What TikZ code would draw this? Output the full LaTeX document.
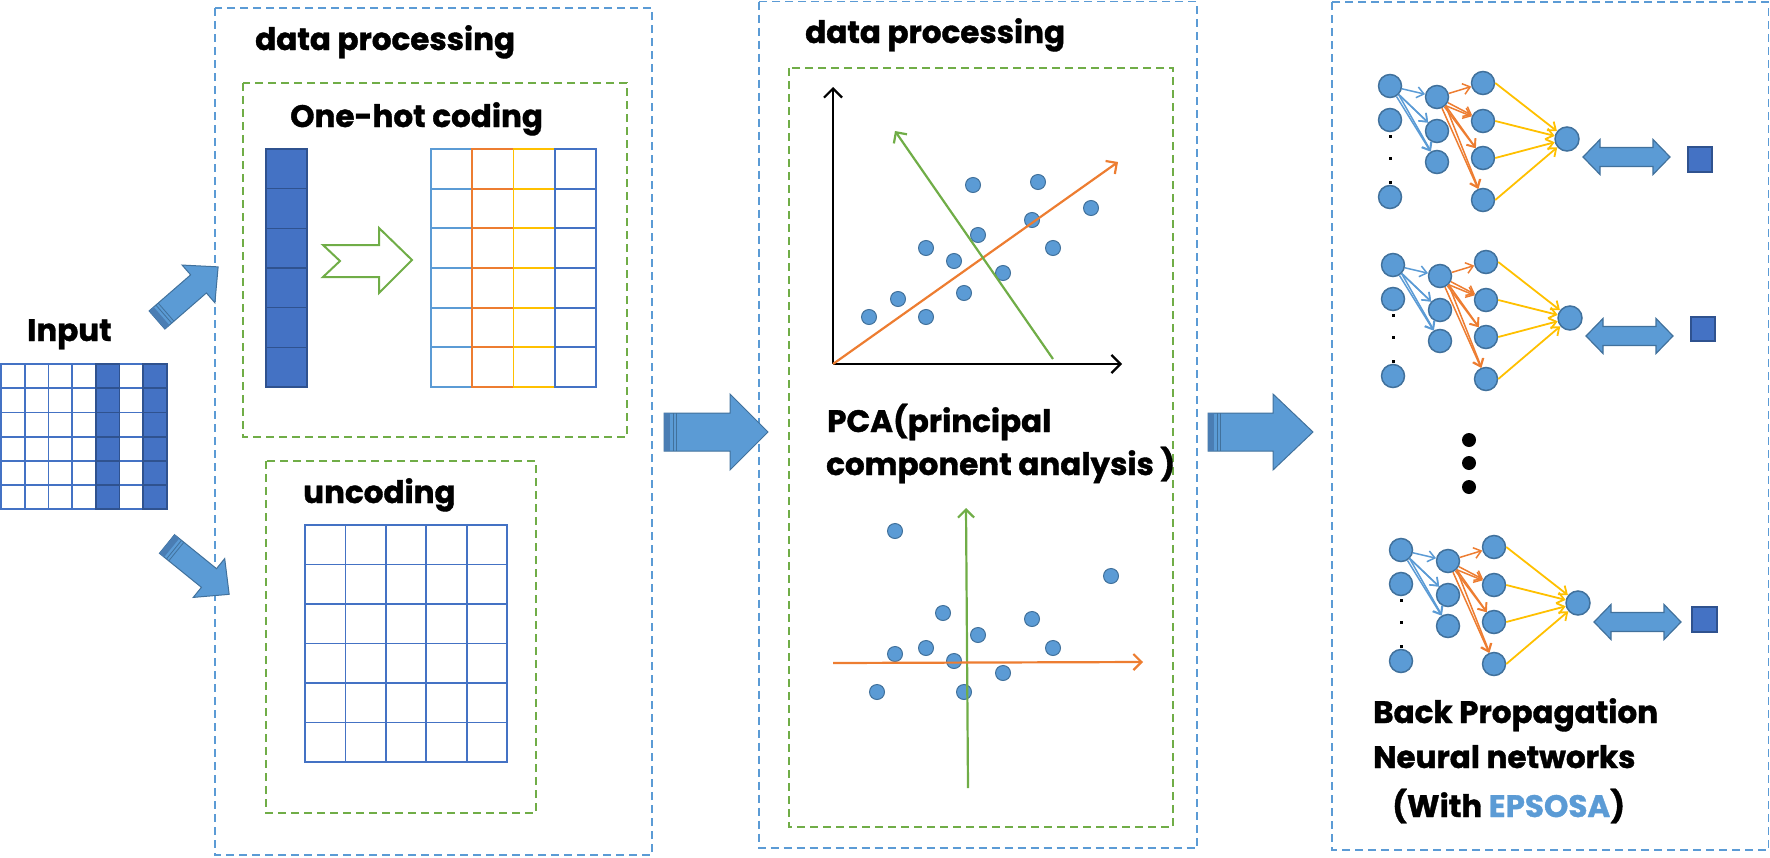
\documentclass[tikz,border=0pt]{standalone}
\usepackage{fontspec}
\setmainfont{Poppins}[BoldFeatures={FakeBold=1.2}]
\usetikzlibrary{arrows.meta}
\definecolor{lb}{HTML}{5B9BD5}
\definecolor{lbedge}{HTML}{41719C}
\definecolor{db}{HTML}{4472C4}
\definecolor{dbedge}{HTML}{2F528F}
\definecolor{og}{HTML}{ED7D31}
\definecolor{gd}{HTML}{FFC000}
\definecolor{gr}{HTML}{70AD47}
\definecolor{stripe}{HTML}{4A7DB3}
\newcommand\blockarr[8]{% #1 name, #2 x, #3 y, #4 rot, #5 L, #6 head len, #7 shaft half, #8 head half
\begin{scope}[shift={(#2,#3)},rotate=#4]
 \filldraw[fill=lb,draw=lbedge,line width=1] (0,-#7) -- (#5-#6,-#7) -- (#5-#6,-#8) -- (#5,0) coordinate (#1) -- (#5-#6,#8) -- (#5-#6,#7) -- (0,#7) -- cycle;
 \fill[stripe] (0,-#7) rectangle (6,#7);
 \draw[lbedge,line width=0.8] (9,-#7) -- (9,#7) (12,-#7) -- (12,#7);
\end{scope}}
\newcommand\dblarr[4]{% #1 x1, #2 x2, #3 center y, #4 name
 \filldraw[fill=lb,draw=lbedge,line width=1.2] (#1,#3) coordinate (#4) -- (#1+17,#3-17.5) -- (#1+17,#3-9.5) -- (#2-17,#3-9.5) -- (#2-17,#3-17.5) -- (#2,#3) -- (#2-17,#3+17.5) -- (#2-17,#3+9.5) -- (#1+17,#3+9.5) -- (#1+17,#3+17.5) -- cycle;}
\newcommand\nnet[3]{% #1 id, #2 x, #3 y
\begin{scope}[shift={(#2,#3)}]
 \node[neuron] (#1i1) at (0,0) {};
 \node[neuron] (#1i2) at (0,34) {};
 \node[neuron] (#1i3) at (0,111) {};
 \foreach \yy in {50,72,96} \fill[black] (-1.5,\yy-1.5) rectangle ++(3,3);
 \node[neuron] (#1a1) at (47,11) {};
 \node[neuron] (#1a2) at (47,45) {};
 \node[neuron] (#1a3) at (47,76) {};
 \node[neuron] (#1b1) at (93,-3) {};
 \node[neuron] (#1b2) at (93,35) {};
 \node[neuron] (#1b3) at (93,72) {};
 \node[neuron] (#1b4) at (93,114) {};
 \node[neuron,minimum size=24] (#1o) at (177,53) {};
 \foreach \k in {1,2,3} \draw[barr] (#1i1) -- (#1a\k);
 \foreach \k in {2,3} \draw[barr] (#1i1.south east) -- (#1a\k);
 \foreach \k in {1,2,3,4} \draw[oarr] (#1a1) -- (#1b\k);
 \foreach \k in {2,3,4} \draw[oarr] (#1a1.south east) -- (#1b\k);
 \foreach \k in {1,2,3,4} \draw[yarr] (#1b\k.east) -- (#1o);
\end{scope}}
\begin{document}
\begin{tikzpicture}[x=1pt,y=-1pt,
 bluebox/.style={draw=lb,line width=1.8,dash pattern=on 8pt off 5pt},
 greenbox/.style={draw=gr,line width=1.8,dash pattern=on 8pt off 5pt},
 title/.style={font=\fontsize{31}{31}\selectfont\bfseries,anchor=base west,inner sep=0},
 dot/.style={circle,fill=lb,draw=lbedge,line width=1,minimum size=15,inner sep=0},
 neuron/.style={circle,fill=lb,draw=lbedge,line width=1.5,minimum size=23,inner sep=0},
 tipb/.style={-{Straight Barb[length=7pt,width=11pt]}},
 barr/.style={tipb,draw=lb,line width=1.5},
 oarr/.style={tipb,draw=og,line width=1.5},
 yarr/.style={tipb,draw=gd,line width=1.8},
 axis/.style={-{Straight Barb[length=9pt,width=18pt]},line width=2.2},
 pline/.style={-{Straight Barb[length=8pt,width=16pt]},line width=2.2}]
\useasboundingbox (0,0) rectangle (1770,857);
% ---- boxes
\draw[bluebox] (215,8) rectangle (652,855);
\draw[greenbox] (243,83) rectangle (627,437);
\draw[greenbox] (266,461) rectangle (536,813);
\draw[bluebox] (759,1.5) rectangle (1197,848);
\draw[greenbox] (789,68) rectangle (1173,827);
\draw[bluebox] (1332,2) rectangle (1768.5,850);
% ---- input
\node[title] (inp) at (27,341) {Input};
\foreach \c in {0,1,2,3,5} \foreach \r in {0,...,5}
  \draw[db,line width=1.8] (1+\c*23.7,364+\r*24.2) rectangle ++(23.7,24.2);
\foreach \c in {4,6} \foreach \r in {0,...,5}
  \filldraw[fill=db,draw=dbedge,line width=1.8] (1+\c*23.7,364+\r*24.2) rectangle ++(23.7,24.2);
% ---- box 1
\node[title] (dp1) at (255,50) {data processing};
\node[title] (oh) at (290,127) {One-hot coding};
\foreach \r in {0,...,5}
  \filldraw[fill=db,draw=dbedge,line width=1.5] (266,149+\r*39.67) rectangle ++(41,39.67);
\draw[gr,line width=2,line join=miter] (323,245) -- (379,245) -- (379,228) -- (412,260) -- (379,293) -- (379,277) -- (323,277) -- (340,261) -- cycle;
\foreach \col/\cc in {0/lb,1/og,2/gd,3/db} \foreach \r in {0,...,5}
  \draw[\cc,line width=1.8] (431+\col*41.25,149+\r*39.67) rectangle ++(41.25,39.67);
\node[title] (unc) at (303,503) {uncoding};
\foreach \c in {0,...,4} \foreach \r in {0,...,5}
  \draw[db,line width=1.8] (305+\c*40.4,525+\r*39.5) rectangle ++(40.4,39.5);
% ---- block arrows
\blockarr{a1}{157}{320}{41}{81}{26}{12}{25}
\blockarr{a2}{167}{544}{-39}{80}{26}{12}{25}
\blockarr{a3}{664}{432}{0}{104}{38}{19}{38}
\blockarr{a4}{1208}{432}{0}{105}{40}{19}{38}
% ---- box 2
\node[title] (dp2) at (805,43) {data processing};
\foreach \p in {(973,185),(1038,182),(1091,208),(1032,220),(978,235),(926,248),(1053,248),(954,261),(1003,273),(964,293),(898,299),(869,317),(926,317)}
  \node[dot] at \p {};
\coordinate (o1) at (833,364);
\coordinate (yt) at (833,87);
\coordinate (xt) at (1122,364);
\draw[axis] (o1) -- (yt);
\draw[axis] (o1) -- (xt);
\coordinate (oe) at (1118,162);
\coordinate (gs) at (1053,359);
\coordinate (ge) at (895,131);
\draw[pline,og] (o1) -- (oe);
\draw[pline,gr] (gs) -- (ge);
\node[title] (pca1) at (827,432) {PCA(principal};
\node[title] (pca2) at (826,475) {component analysis )};
\foreach \p in {(895,531),(1111,576),(943,613),(1032,619),(978,635),(926,648),(895,654),(1053,648),(954,661),(1003,673),(877,692),(964,692)}
  \node[dot] at \p {};
\coordinate (g2s) at (968,788);
\coordinate (g2e) at (966,508);
\coordinate (o2s) at (833,663);
\coordinate (o2e) at (1143,662);
\draw[pline,gr] (g2s) -- (g2e);
\draw[pline,og] (o2s) -- (o2e);
% ---- box 3
\nnet{p}{1390}{86}
\nnet{q}{1393}{265}
\nnet{r}{1401}{550}
\dblarr{1583}{1670}{157}{d1}
\dblarr{1586}{1673}{336}{d2}
\dblarr{1594}{1681}{622}{d3}
\filldraw[fill=db,draw=dbedge,line width=1.2] (1688,147) rectangle (1712,172);
\filldraw[fill=db,draw=dbedge,line width=1.2] (1691,317) rectangle (1715,341);
\filldraw[fill=db,draw=dbedge,line width=1.2] (1692,607) rectangle (1717,632);
\foreach \yy in {440,463,487} \fill[black] (1469,\yy) circle (7);
\node[title] (bp1) at (1373,723) {Back Propagation};
\node[title] (bp2) at (1373,768) {Neural networks};
\node[title] (bp3) at (1392,817) {(With {\color{lb}EPSOSA})};
\end{tikzpicture}
\end{document}
